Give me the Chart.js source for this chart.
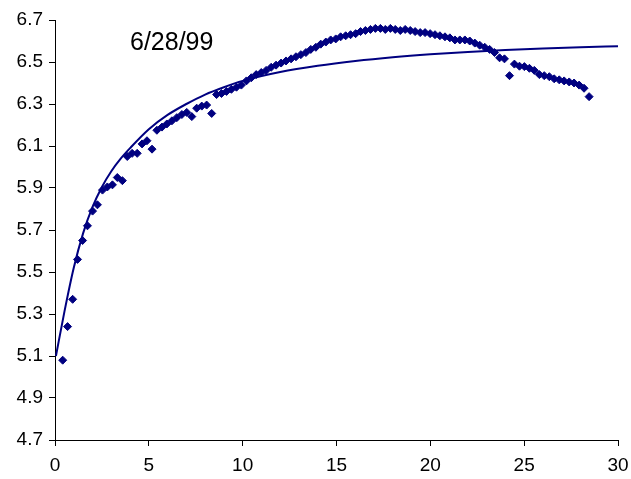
<!DOCTYPE html>
<html>
<head>
<meta charset="utf-8">
<script src="https://cdn.jsdelivr.net/npm/chart.js@4/dist/chart.umd.min.js"></script>
<style>
  html, body { margin: 0; padding: 0; background: #ffffff; }
  #wrap { width: 631px; height: 479px; }
</style>
</head>
<body>
<div id="wrap"><canvas id="c" width="631" height="479"></canvas></div>
<script>
// Measured readings (time vs. value) for 6/28/99
const obsX = [0.41, 0.67, 0.94, 1.20, 1.47, 1.73, 2.00, 2.26, 2.53, 2.79,
  3.06, 3.32, 3.59, 3.85, 4.11, 4.38, 4.64, 4.90, 5.17, 5.43,
  5.70, 5.96, 6.23, 6.49, 6.76, 7.02, 7.29, 7.55, 7.82, 8.08,
  8.35, 8.61, 8.87, 9.14, 9.40, 9.67, 9.93, 10.20, 10.46, 10.72,
  10.99, 11.25, 11.52, 11.78, 12.05, 12.31, 12.58, 12.84, 13.10, 13.37,
  13.63, 13.90, 14.16, 14.43, 14.69, 14.96, 15.22, 15.49, 15.75, 16.02,
  16.28, 16.54, 16.81, 17.07, 17.34, 17.60, 17.87, 18.13, 18.40, 18.66,
  18.93, 19.19, 19.46, 19.72, 19.99, 20.25, 20.51, 20.78, 21.04, 21.31,
  21.57, 21.84, 22.10, 22.37, 22.63, 22.90, 23.16, 23.42, 23.69, 23.95,
  24.22, 24.48, 24.75, 25.01, 25.28, 25.54, 25.81, 26.07, 26.34, 26.60,
  26.87, 27.13, 27.40, 27.66, 27.93, 28.19, 28.46];
const obsY = [5.08, 5.24, 5.37, 5.56, 5.65, 5.72, 5.79, 5.82, 5.89, 5.905,
  5.915, 5.95, 5.935, 6.05, 6.065, 6.065, 6.11, 6.125, 6.085, 6.175,
  6.19, 6.205, 6.22, 6.235, 6.25, 6.26, 6.24, 6.28, 6.29, 6.295,
  6.255, 6.345, 6.35, 6.36, 6.37, 6.38, 6.39, 6.41, 6.425, 6.44,
  6.45, 6.46, 6.475, 6.485, 6.495, 6.505, 6.515, 6.525, 6.535, 6.545,
  6.56, 6.57, 6.585, 6.595, 6.605, 6.61, 6.62, 6.625, 6.63, 6.635,
  6.645, 6.65, 6.655, 6.66, 6.66, 6.655, 6.66, 6.655, 6.65, 6.655,
  6.65, 6.645, 6.64, 6.64, 6.635, 6.63, 6.625, 6.62, 6.615, 6.605,
  6.605, 6.605, 6.60, 6.59, 6.58, 6.57, 6.56, 6.545, 6.52, 6.515,
  6.435, 6.49, 6.48, 6.478, 6.47, 6.46, 6.44, 6.435, 6.43, 6.42,
  6.415, 6.41, 6.405, 6.40, 6.39, 6.375, 6.335];

// Fitted curve, sampled along x
const fitX = [0.05, 0.5, 1.0, 1.5, 2.0, 2.5, 3.0, 3.5, 4.0, 5.0, 6.0, 7.0, 8.0, 9.0,
  10.0, 12.0, 14.0, 16.0, 18.0, 20.0, 22.0, 24.0, 26.0, 28.0, 30.0];
const fitY = [5.10, 5.31, 5.52, 5.685, 5.81, 5.905, 5.98, 6.04, 6.09, 6.18, 6.248, 6.30, 6.345, 6.38,
  6.41, 6.452, 6.482, 6.505, 6.523, 6.537, 6.548, 6.557, 6.564, 6.570, 6.575];

// Axis ticks and caption
const xTicks = [0, 5, 10, 15, 20, 25, 30];
const yTicks = [4.7, 4.9, 5.1, 5.3, 5.5, 5.7, 5.9, 6.1, 6.3, 6.5, 6.7];
const dateLabel = '6/28/99';

const navy = '#000080';
const fontFamily = '"Liberation Sans", Arial, sans-serif';

const obsPoints = obsX.map((x, i) => ({ x: x, y: obsY[i] }));
const fitPoints = fitX.map((x, i) => ({ x: x, y: fitY[i] }));

const dateLabelPlugin = {
  id: 'dateLabel',
  afterDraw(chart) {
    const ctx = chart.ctx;
    ctx.save();
    ctx.fillStyle = '#000000';
    ctx.font = '25px ' + fontFamily;
    ctx.textBaseline = 'alphabetic';
    ctx.textAlign = 'left';
    ctx.fillText(dateLabel, 130, 50);
    ctx.restore();
  }
};

new Chart(document.getElementById('c'), {
  type: 'scatter',
  data: {
    datasets: [
      {
        label: 'fit',
        data: fitPoints,
        showLine: true,
        borderColor: navy,
        borderWidth: 2,
        pointRadius: 0,
        fill: false,
        cubicInterpolationMode: 'monotone',
        order: 0
      },
      {
        label: 'readings',
        data: obsPoints,
        pointStyle: 'rectRot',
        pointRadius: 4,
        borderWidth: 1,
        backgroundColor: navy,
        borderColor: navy,
        showLine: false,
        order: 1
      }
    ]
  },
  options: {
    responsive: false,
    animation: false,
    events: [],
    layout: { padding: { top: 20, right: 13, left: 0, bottom: 0 } },
    plugins: {
      legend: { display: false },
      tooltip: { enabled: false },
      title: { display: false }
    },
    scales: {
      x: {
        type: 'linear',
        min: 0,
        max: 30,
        afterBuildTicks(scale) { scale.ticks = xTicks.map(v => ({ value: v })); },
        afterFit(scale) {
          scale.height = 39;
          scale.paddingLeft = 0;
          scale.paddingRight = 0;
        },
        grid: { drawOnChartArea: false, color: '#000000', tickLength: 6 },
        border: { display: true, color: '#000000', width: 1 },
        ticks: {
          color: '#000000',
          font: { family: fontFamily, size: 19 },
          padding: 8,
          maxRotation: 0,
          callback: (v) => String(v)
        }
      },
      y: {
        type: 'linear',
        min: 4.7,
        max: 6.7,
        afterBuildTicks(scale) { scale.ticks = yTicks.map(v => ({ value: v })); },
        afterFit(scale) {
          scale.width = 55;
          scale.paddingTop = 0;
          scale.paddingBottom = 0;
        },
        grid: { drawOnChartArea: false, color: '#000000', tickLength: 6 },
        border: { display: true, color: '#000000', width: 1 },
        ticks: {
          color: '#000000',
          font: { family: fontFamily, size: 19 },
          padding: 6,
          callback: (v) => v.toFixed(1)
        }
      }
    }
  },
  plugins: [dateLabelPlugin]
});
</script>
</body>
</html>
